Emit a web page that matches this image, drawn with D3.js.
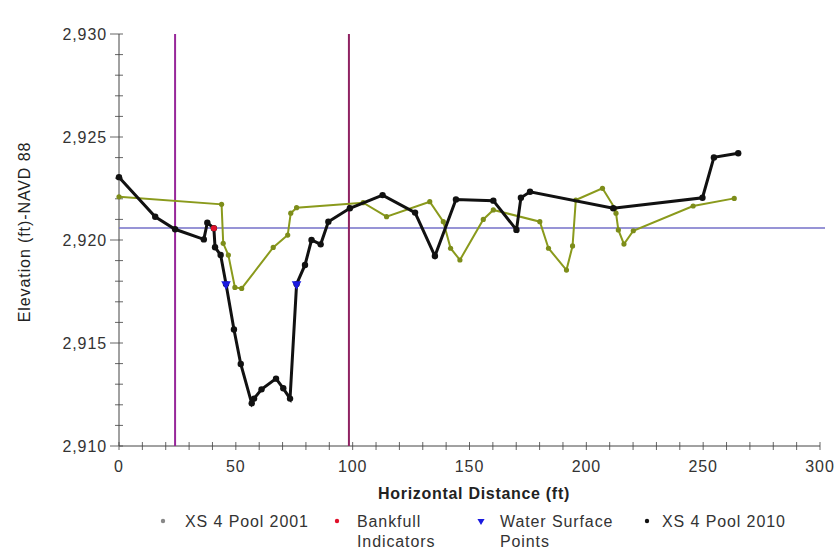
<!DOCTYPE html>
<html><head><meta charset="utf-8">
<script src="https://cdn.jsdelivr.net/npm/d3@7/dist/d3.min.js"></script>
<style>body{margin:0;background:#fff;}svg{display:block;font-family:"Liberation Sans",Arial,sans-serif;}</style>
</head><body><svg id="c" width="840" height="550"></svg>
<script>
const dist2010 = [0, 15.5, 24, 36.3, 37.8, 40.6, 41.1, 43.5, 45.8, 49.2, 52.1, 56.8, 57.8, 61.0, 67.2, 70.3, 73.2, 76.0, 79.6, 82.4, 86.3, 89.6, 98.8, 112.8, 126.7, 135.2, 144.2, 160.2, 170.1, 172.0, 175.9, 211.5, 249.7, 254.6, 265.0];
const elev2010 = [2923.05, 2921.13, 2920.52, 2920.03, 2920.84, 2920.57, 2919.65, 2919.27, 2917.86, 2915.66, 2913.98, 2912.07, 2912.3, 2912.75, 2913.27, 2912.8, 2912.3, 2917.86, 2918.79, 2920.0, 2919.79, 2920.89, 2921.54, 2922.18, 2921.33, 2919.22, 2921.97, 2921.91, 2920.49, 2922.05, 2922.34, 2921.54, 2922.05, 2924.01, 2924.21];
const dist2001 = [0, 43.9, 44.6, 46.8, 49.6, 52.5, 66.0, 72.2, 73.5, 76.0, 104.5, 114.5, 133.0, 138.8, 141.9, 145.9, 155.9, 160.2, 180.1, 183.8, 191.5, 194.1, 195.5, 206.9, 212.2, 212.7, 213.7, 216.1, 220.1, 245.7, 263.3];
const elev2001 = [2922.1, 2921.73, 2919.84, 2919.27, 2917.7, 2917.65, 2919.64, 2920.24, 2921.3, 2921.57, 2921.81, 2921.13, 2921.86, 2920.89, 2919.6, 2919.03, 2921.0, 2921.46, 2920.89, 2919.6, 2918.54, 2919.71, 2921.94, 2922.51, 2921.54, 2921.3, 2920.49, 2919.8, 2920.45, 2921.65, 2922.02];
const bankDist = [40.6];
const bankElev = [2920.57];
const wsDist = [45.8, 76.0];
const wsElev = [2917.86, 2917.86];
const vLines = [24.0, 98.4];
const hLine = 2920.58;
const xTicks = [0, 50, 100, 150, 200, 250, 300];
const yTicks = [2910, 2915, 2920, 2925, 2930];
const legendLabels = [["XS 4 Pool 2001"], ["Bankfull", "Indicators"], ["Water Surface", "Points"], ["XS 4 Pool 2010"]];

const svg = d3.select("#c");
const x = d3.scaleLinear().domain([0, 300]).range([119, 820]);
const y = d3.scaleLinear().domain([2910, 2930]).range([446, 34]);
const fmt = d3.format(",");
const axisCol = "#444";
const LS = 0.9;

const g = svg.append("g");
d3.range(2910, 2931, 1).forEach(v => {
  const major = v % 5 === 0;
  g.append("line").attr("x1", x(0) - (major ? 9 : 4)).attr("x2", x(0) + 4)
    .attr("y1", y(v)).attr("y2", y(v)).attr("stroke", "#666").attr("stroke-width", 1);
});
d3.range(0, 301, 10).forEach(v => {
  g.append("line").attr("x1", x(v)).attr("x2", x(v))
    .attr("y1", y(2910) - 4).attr("y2", y(2910) + 4).attr("stroke", "#666").attr("stroke-width", 1);
});
g.append("line").attr("x1", x(0)).attr("x2", x(0)).attr("y1", y(2930)).attr("y2", y(2910)).attr("stroke", axisCol);
g.append("line").attr("x1", x(0)).attr("x2", x(300)).attr("y1", y(2910)).attr("y2", y(2910)).attr("stroke", axisCol);

yTicks.forEach(v => {
  svg.append("text").attr("x", x(0) - 12).attr("y", y(v) + 6).attr("text-anchor", "end")
    .attr("font-size", 16).attr("letter-spacing", LS).attr("fill", "#333").text(fmt(v));
});
xTicks.forEach(v => {
  svg.append("text").attr("x", x(v)).attr("y", 472).attr("text-anchor", "middle")
    .attr("font-size", 16).attr("letter-spacing", LS).attr("fill", "#333").text(v);
});
svg.append("text").attr("x", 474).attr("y", 499).attr("text-anchor", "middle")
  .attr("font-size", 16).attr("letter-spacing", 0.7).attr("font-weight", "bold").attr("fill", "#222").text("Horizontal Distance (ft)");
svg.append("text").attr("transform", "translate(30,232) rotate(-90)").attr("text-anchor", "middle")
  .attr("font-size", 16).attr("letter-spacing", LS).attr("fill", "#222").text("Elevation (ft)-NAVD 88");

svg.append("line").attr("x1", x(0)).attr("x2", 825).attr("y1", y(hLine)).attr("y2", y(hLine))
  .attr("stroke", "#7470c8").attr("stroke-width", 1.5);
const vCols = ["#97279a", "#8f2262"];
vLines.forEach((v, i) => {
  svg.append("line").attr("x1", x(v)).attr("x2", x(v)).attr("y1", y(2930)).attr("y2", y(2910))
    .attr("stroke", vCols[i]).attr("stroke-width", 2);
});

const line = d3.line().x(d => x(d[0])).y(d => y(d[1]));
const d2001 = dist2001.map((d, i) => [d, elev2001[i]]);
const d2010 = dist2010.map((d, i) => [d, elev2010[i]]);

svg.append("path").datum(d2001).attr("d", line).attr("fill", "none").attr("stroke", "#8a9a1c").attr("stroke-width", 2);
svg.selectAll(".p01").data(d2001).enter().append("circle").attr("cx", d => x(d[0])).attr("cy", d => y(d[1]))
  .attr("r", 2.6).attr("fill", "#7d8d1a");

svg.append("path").datum(d2010).attr("d", line).attr("fill", "none").attr("stroke", "#111").attr("stroke-width", 3);
svg.selectAll(".p10").data(d2010).enter().append("circle").attr("cx", d => x(d[0])).attr("cy", d => y(d[1]))
  .attr("r", 3.2).attr("fill", "#111");

bankDist.forEach((d, i) => {
  svg.append("circle").attr("cx", x(d)).attr("cy", y(bankElev[i])).attr("r", 3).attr("fill", "#e0102a");
});
const tri = d3.symbol().type(d3.symbolTriangle).size(40);
wsDist.forEach((d, i) => {
  svg.append("path").attr("d", tri).attr("transform", `translate(${x(d)},${y(wsElev[i])}) rotate(180)`).attr("fill", "#1a1ae0");
});

const lx = [163, 337, 481, 647];
const ltx = [185, 357, 500, 662];
const lcol = ["#888", "#e0102a", "#1a1ae0", "#111"];
legendLabels.forEach((lab, i) => {
  if (i === 2) {
    svg.append("path").attr("d", d3.symbol().type(d3.symbolTriangle).size(22))
      .attr("transform", `translate(${lx[i]},521) rotate(180)`).attr("fill", lcol[i]);
  } else {
    svg.append("circle").attr("cx", lx[i]).attr("cy", 521).attr("r", 2.2).attr("fill", lcol[i]);
  }
  lab.forEach((t, j) => {
    svg.append("text").attr("x", ltx[i]).attr("y", 527 + j * 20).attr("font-size", 16).attr("letter-spacing", LS).attr("fill", "#333").text(t);
  });
});
</script></body></html>
